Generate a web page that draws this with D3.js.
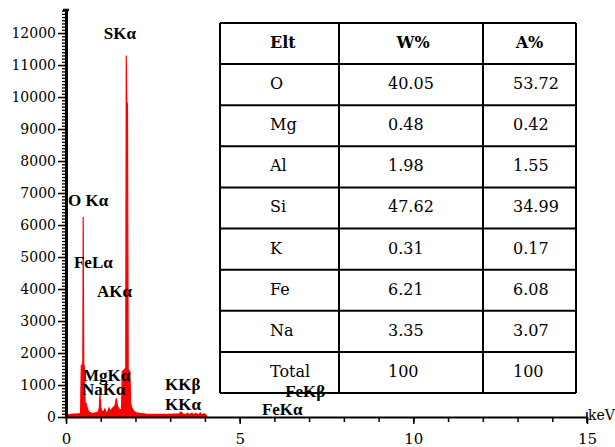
<!DOCTYPE html>
<html>
<head>
<meta charset="utf-8">
<script src="https://cdn.jsdelivr.net/npm/d3@7"></script>
<style>
  body { margin: 0; background: #fff; }
  svg { display: block; }
</style>
</head>
<body>
<svg id="chart" width="615" height="447"></svg>
<script>
'use strict';

// EDS spectrum (energy in keV, counts)
const specKeV = [0.00,0.05,0.20,0.35,0.42,0.44,0.47,0.485,0.495,0.51,0.53,0.55,0.58,0.61,0.65,0.75,0.85,0.93,0.96,0.98,1.00,1.03,1.08,1.12,1.15,1.20,1.24,1.27,1.30,1.36,1.41,1.45,1.48,1.52,1.57,1.60,1.62,1.66,1.70,1.72,1.735,1.75,1.77,1.79,1.82,1.84,1.86,1.89,1.95,2.05,2.30,2.60,2.90,3.10,3.25,3.31,3.37,3.45,3.50,3.55,3.62,3.68,3.74,3.82,3.87,3.92,3.98,4.03,4.06];
const specCounts = [0,70,90,100,110,1600,1650,1700,6250,1650,1550,450,420,300,160,110,130,160,300,700,320,180,170,250,150,160,280,180,220,300,350,580,350,260,220,250,1420,1450,1500,1550,11300,9820,9800,1500,1450,1400,450,300,180,120,90,80,80,90,90,160,90,80,120,70,120,70,110,70,120,70,100,60,0];

// peak labels, anchored in data space (keV, counts)
const peakNames  = ['SKα', 'O Kα', 'FeLα', 'AKα', 'MgKα', 'NaKα', 'KKβ', 'KKα', 'FeKβ', 'FeKα'];
const peakKeV    = [1.09, 0.06, 0.23, 0.89, 0.49, 0.46, 2.85, 2.85, 6.31, 5.64];
const peakCounts = [11810, 6590, 4660, 3750, 1130, 690, 840, 220, 625, 60];

// axis ticks
const yTicks = d3.range(0, 12001, 1000);
const xTicks = [0, 5, 10, 15];

// quantification table
const tableHead = ['Elt', 'W%', 'A%'];
const elements = ['O', 'Mg', 'Al', 'Si', 'K', 'Fe', 'Na', 'Total'];
const wPct = ['40.05', '0.48', '1.98', '47.62', '0.31', '6.21', '3.35', '100'];
const aPct = ['53.72', '0.42', '1.55', '34.99', '0.17', '6.08', '3.07', '100'];

const svg = d3.select('#chart');
const serif = '"DejaVu Serif", serif';
const labelFont = '"Liberation Serif", "Times New Roman", serif';

const x = d3.scaleLinear().domain([0, 15]).range([66, 587]);
const y = d3.scaleLinear().domain([0, 12720]).range([417, 10]);

// spectrum
const spec = specKeV.map((k, i) => ({ k: k, c: specCounts[i] }));
const area = d3.area()
  .x(d => x(d.k))
  .y0(y(0))
  .y1(d => y(d.c));

svg.append('path')
  .datum(spec)
  .attr('d', area)
  .attr('fill', '#f00')
  .attr('stroke', '#f00')
  .attr('stroke-width', 1.2)
  .attr('stroke-linejoin', 'miter');

// y axis: ruler of minor ticks + labelled majors
const yMinor = svg.append('g')
  .attr('transform', `translate(${x(0)},0)`)
  .call(d3.axisLeft(y).tickValues(d3.range(0, 12701, 100)).tickSize(4).tickFormat(''));
yMinor.select('.domain').remove();
yMinor.selectAll('line').attr('stroke-width', 1.3);

const yAx = svg.append('g')
  .attr('transform', `translate(${x(0)},0)`)
  .call(d3.axisLeft(y).tickValues(yTicks).tickSize(8).tickSizeOuter(0).tickPadding(2).tickFormat(d3.format('d')));
yAx.select('.domain').attr('stroke-width', 3);
yAx.selectAll('line').attr('stroke-width', 1.5);
yAx.selectAll('text')
  .attr('font-family', serif)
  .attr('font-size', 14)
  .attr('fill', '#000');

// cap at top of y axis
svg.append('line')
  .attr('x1', x(0) - 3).attr('x2', x(0) + 3)
  .attr('y1', y(12720)).attr('y2', y(12720))
  .attr('stroke', '#000').attr('stroke-width', 2.5);

// x axis
const xMinor = svg.append('g')
  .attr('transform', `translate(0,${y(0)})`)
  .call(d3.axisBottom(x).tickValues(d3.range(0, 16, 1)).tickSize(5).tickFormat(''));
xMinor.select('.domain').remove();
xMinor.selectAll('line').attr('stroke-width', 1.5);

const xAx = svg.append('g')
  .attr('transform', `translate(0,${y(0)})`)
  .call(d3.axisBottom(x).tickValues(xTicks).tickSize(7).tickSizeOuter(0).tickPadding(9));
xAx.select('.domain').attr('stroke-width', 2);
xAx.selectAll('line').attr('stroke-width', 1.5);
xAx.selectAll('text')
  .attr('font-family', serif)
  .attr('font-size', 15)
  .attr('fill', '#000');

// end cap at 15 keV
svg.append('line')
  .attr('x1', x(15)).attr('x2', x(15))
  .attr('y1', y(0) - 5).attr('y2', y(0) + 6)
  .attr('stroke', '#000').attr('stroke-width', 1.5);

svg.append('text')
  .attr('x', x(15) + 1)
  .attr('y', y(0) + 3)
  .attr('font-family', serif)
  .attr('font-size', 14)
  .text('keV');

// table
const rows = [tableHead].concat(elements.map((e, i) => [e, wPct[i], aPct[i]]));
const rowY = d3.scaleBand().domain(d3.range(rows.length)).range([23, 393]);
const colX = [220, 339, 483, 576];
const tbl = svg.append('g');

rowY.domain().forEach(i => {
  tbl.append('line')
    .attr('x1', colX[0]).attr('x2', colX[3])
    .attr('y1', rowY(i)).attr('y2', rowY(i))
    .attr('stroke', '#000').attr('stroke-width', 2);
});
tbl.append('line')
  .attr('x1', colX[0]).attr('x2', colX[3])
  .attr('y1', rowY.range()[1]).attr('y2', rowY.range()[1])
  .attr('stroke', '#000').attr('stroke-width', 2);
colX.forEach(cx => {
  tbl.append('line')
    .attr('x1', cx).attr('x2', cx)
    .attr('y1', rowY.range()[0]).attr('y2', rowY.range()[1])
    .attr('stroke', '#000').attr('stroke-width', 2);
});

const cellLeft = [270, 388, 513];
const cellMid = [null, (colX[1] + colX[2]) / 2 + 2, (colX[2] + colX[3]) / 2];

tbl.selectAll('g.row')
  .data(rows)
  .enter().append('g')
    .attr('class', 'row')
    .attr('transform', (d, i) => `translate(0,${rowY(i) + 25})`)
  .selectAll('text')
  .data((d, i) => d.map((v, j) => ({ v: v, j: j, head: i === 0 })))
  .enter().append('text')
    .attr('x', d => (d.head && d.j > 0) ? cellMid[d.j] : cellLeft[d.j])
    .attr('text-anchor', d => (d.head && d.j > 0) ? 'middle' : 'start')
    .attr('font-family', serif)
    .attr('font-size', 16)
    .attr('font-weight', d => d.head ? 'bold' : 'normal')
    .text(d => d.v);

// peak labels
svg.selectAll('text.peak')
  .data(peakNames)
  .enter().append('text')
    .attr('class', 'peak')
    .attr('x', (d, i) => x(peakKeV[i]))
    .attr('y', (d, i) => y(peakCounts[i]))
    .attr('font-family', labelFont)
    .attr('font-size', 17)
    .attr('font-weight', 'bold')
    .text(d => d);
</script>
</body>
</html>
